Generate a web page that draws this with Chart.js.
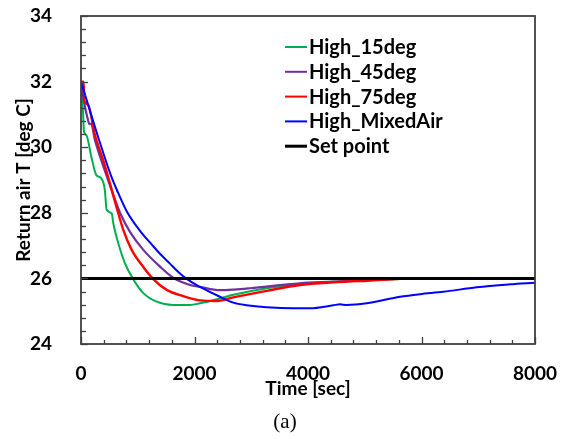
<!DOCTYPE html>
<html>
<head>
<meta charset="utf-8">
<script src="https://cdn.jsdelivr.net/npm/chart.js@4"></script>
<style>
  html, body { margin: 0; padding: 0; background: #fff; }
  #wrap { width: 568px; height: 439px; position: relative; }
</style>
</head>
<body>
<div id="wrap"><canvas id="chart" width="568" height="439"></canvas></div>
<script>
// values (time in sec, return air temperature in deg C)
const seriesNames = ['High_15deg', 'High_45deg', 'High_75deg', 'High_MixedAir', 'Set point'];
const seriesColors = ['#00B050', '#7030A0', '#FF0000', '#0000FF', '#000000'];

const t15 = [0, 6, 35, 53, 94, 182, 270, 358, 420, 450, 541, 569, 657, 775, 922, 1098, 1334, 1626, 1921, 2097, 2300, 2684, 3272, 3859, 4446, 5034, 6000, 8000];
const v15 = [32, 31.7, 31.1, 30.47, 30.37, 29.71, 29.15, 29.05, 28.7, 28.1, 27.98, 27.68, 27.07, 26.46, 25.97, 25.55, 25.29, 25.19, 25.19, 25.24, 25.32, 25.5, 25.7, 25.83, 25.9, 25.94, 26.0, 26.0];

const t45 = [0, 40, 123, 150, 180, 241, 417, 569, 687, 863, 1098, 1392, 1626, 1921, 2097, 2449, 2700, 2978, 3859, 4446, 5000, 6000, 8000];
const v45 = [32, 31.5, 30.83, 30.7, 30.72, 30.25, 29.3, 28.55, 28.0, 27.42, 26.87, 26.36, 26.02, 25.8, 25.74, 25.64, 25.66, 25.7, 25.85, 25.9, 25.95, 26.0, 26.0];

const t75 = [0, 45, 60, 123, 241, 400, 541, 640, 745, 893, 1098, 1274, 1510, 1803, 2097, 2400, 2684, 3272, 3859, 4446, 5034, 6000, 8000];
const v75 = [32, 32, 31.4, 31.3, 30.4, 29.55, 28.7, 28.09, 27.48, 26.87, 26.35, 25.98, 25.65, 25.46, 25.33, 25.31, 25.42, 25.62, 25.8, 25.88, 25.93, 26.0, 26.0];

const tMix = [0, 300, 535, 657, 805, 1040, 1274, 1392, 1568, 1700, 1850, 2097, 2449, 2684, 2920, 3272, 3741, 4035, 4446, 4564, 4680, 5034, 5621, 5972, 6384, 6972, 7560, 8000];
const vMix = [32, 30.32, 29.1, 28.6, 28.05, 27.45, 26.98, 26.75, 26.45, 26.22, 26.0, 25.74, 25.44, 25.26, 25.18, 25.12, 25.09, 25.09, 25.18, 25.21, 25.19, 25.24, 25.44, 25.52, 25.59, 25.73, 25.82, 25.87];

const tSet = [0, 8000];
const vSet = [26, 26];

const xTicks = [0, 2000, 4000, 6000, 8000];
const yTicks = [24, 26, 28, 30, 32, 34];

function pts(ts, vs) {
    return ts.map(function(t, i) { return { x: t, y: vs[i] }; });
}

const tickFont = { family: 'Lato', weight: 'bold', size: 19 };
const titleFont = { family: 'Lato', weight: 'bold', size: 19 };

// inside ticks, frame, legend and the "(a)" caption
const decor = {
    id: 'decor',
    afterDraw: function(chart) {
        const ctx = chart.ctx;
        const a = chart.chartArea;
        const xs = chart.scales.x, ys = chart.scales.y;
        ctx.save();
        ctx.strokeStyle = '#404040';
        ctx.lineWidth = 1.3;
        xs.ticks.forEach(function(tk) {
            const px = Math.round(xs.getPixelForValue(tk.value)) + 0.5;
            const len = xTicks.includes(tk.value) ? 7 : 4;
            ctx.beginPath();
            ctx.moveTo(px, a.bottom);
            ctx.lineTo(px, a.bottom - len);
            ctx.stroke();
        });
        ys.ticks.forEach(function(tk) {
            const py = Math.round(ys.getPixelForValue(tk.value)) + 0.5;
            const major = yTicks.some(function(v) { return Math.abs(v - tk.value) < 1e-6; });
            ctx.beginPath();
            ctx.moveTo(a.left, py);
            ctx.lineTo(a.left + (major ? 7 : 5), py);
            ctx.stroke();
        });
        ctx.lineWidth = 1.8;
        ctx.strokeRect(a.left, a.top, a.right - a.left, a.bottom - a.top);

        // legend
        ctx.font = 'bold 20px Lato';
        ctx.textBaseline = 'alphabetic';
        ctx.textAlign = 'left';
        seriesNames.forEach(function(name, i) {
            const y = 47 + i * 24.8;
            ctx.strokeStyle = seriesColors[i];
            ctx.lineWidth = i === 4 ? 3 : 2;
            ctx.beginPath();
            ctx.moveTo(285, y);
            ctx.lineTo(307, y);
            ctx.stroke();
            ctx.fillStyle = '#000';
            ctx.fillText(name, 309, y + 7);
        });

        ctx.font = '21px "Liberation Serif"';
        ctx.textAlign = 'center';
        ctx.fillText('(a)', 285, 428);
        ctx.restore();
    }
};

const data = {
    datasets: [
        { label: seriesNames[0], data: pts(t15, v15), borderColor: seriesColors[0], borderWidth: 2, order: 4 },
        { label: seriesNames[1], data: pts(t45, v45), borderColor: seriesColors[1], borderWidth: 2.2, order: 3 },
        { label: seriesNames[2], data: pts(t75, v75), borderColor: seriesColors[2], borderWidth: 2.4, order: 2 },
        { label: seriesNames[3], data: pts(tMix, vMix), borderColor: seriesColors[3], borderWidth: 2, order: 1 },
        { label: seriesNames[4], data: pts(tSet, vSet), borderColor: seriesColors[4], borderWidth: 3, order: 0 }
    ]
};

new Chart(document.getElementById('chart').getContext('2d'), {
    type: 'line',
    data: data,
    options: {
        responsive: false,
        animation: false,
        elements: {
            point: { radius: 0 },
            line: { cubicInterpolationMode: 'monotone', fill: false }
        },
        layout: { padding: { left: 0, right: 0, top: 0, bottom: 39 } },
        plugins: { legend: { display: false }, tooltip: { enabled: false } },
        scales: {
            x: {
                type: 'linear',
                min: 0,
                max: 8000,
                grid: { display: false },
                border: { display: false },
                ticks: {
                    stepSize: 400,
                    autoSkip: false,
                    maxRotation: 0,
                    padding: 10,
                    color: '#000',
                    font: tickFont,
                    callback: function(v) { return xTicks.includes(v) ? String(v) : ''; }
                },
                title: { display: true, text: 'Time [sec]', color: '#000', font: titleFont, padding: 0 },
                afterFit: function(s) { s.height = 56; s.paddingRight = 33; s.paddingLeft = 0; }
            },
            y: {
                min: 24,
                max: 34,
                grid: { display: false },
                border: { display: false },
                ticks: {
                    stepSize: 0.4,
                    autoSkip: false,
                    padding: 21,
                    color: '#000',
                    font: tickFont,
                    callback: function(v) {
                        const m = yTicks.find(function(t) { return Math.abs(t - v) < 1e-6; });
                        return m !== undefined ? String(m) : '';
                    }
                },
                title: { display: true, text: 'Return air T [deg C]', color: '#000', font: titleFont, padding: { top: 12, bottom: 0 } },
                afterFit: function(s) { s.width = 81; s.paddingTop = 16; s.paddingBottom = 0; }
            }
        }
    },
    plugins: [decor]
});
</script>
</body>
</html>
